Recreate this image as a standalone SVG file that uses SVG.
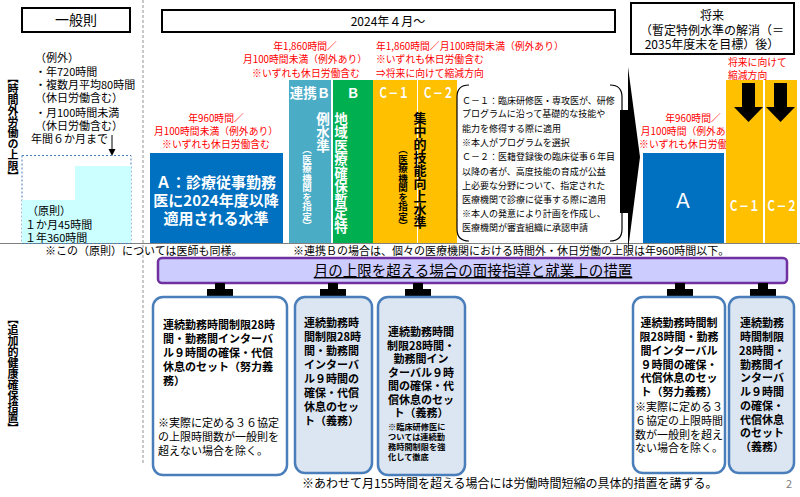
<svg xmlns="http://www.w3.org/2000/svg" width="800" height="497" viewBox="0 0 800 497">
<style>
text{font-family:"Noto Sans CJK JP","Noto Sans CJK SC",sans-serif;fill:#000}
.hdr{fill:#fff;stroke:#000;stroke-width:2}
.red{fill:#ff0000;font-size:9.8px}
.w{fill:#fff;font-weight:bold}
.v{writing-mode:vertical-rl}
.b{font-weight:bold}
.c{text-anchor:middle}
.cl{fill:#fff;font-weight:bold;font-size:10.3px;text-anchor:middle}
.box{stroke:#4a7ebb;stroke-width:2.5}
.bx1{fill:#fff}
.bx2{fill:#dce6f2}
.bt{font-size:11px;font-weight:bold}
</style>

<!-- frame lines -->
<g id="frame">
<line x1="143" y1="0" x2="143" y2="463" stroke="#a6a6a6" stroke-width="1.2" stroke-dasharray="3,2"/>
<line x1="0" y1="243.5" x2="800" y2="243.5" stroke="#808080" stroke-width="1"/>
</g>

<!-- headers -->
<g id="hdr-general">
<rect class="hdr" x="22" y="8" width="108" height="24"/>
<text x="76" y="25" class="c" font-size="14">一般則</text>
</g>
<g id="hdr-2024">
<rect class="hdr" x="162" y="10" width="453" height="22"/>
<text x="388" y="26" class="c" font-size="12">2024年４月～</text>
</g>
<g id="hdr-future">
<rect class="hdr" x="631" y="3" width="163" height="51"/>
<text x="712" y="20" class="c" font-size="12">将来</text>
<text x="712" y="35" class="c" font-size="12">（暫定特例水準の解消（＝</text>
<text x="712" y="49" class="c" font-size="12">2035年度末を目標）後）</text>
</g>

<!-- side labels -->
<text x="13" y="72" class="v b" font-size="11">【時間外労働の上限】</text>
<text x="13" y="313" class="v b" font-size="11">【追加的健康確保措置】</text>

<!-- general rule -->
<g id="general-rule">
<g font-size="11">
<text x="35" y="62">（例外）</text>
<text x="35" y="76">・年720時間</text>
<text x="35" y="89">・複数月平均80時間</text>
<text x="35" y="102">（休日労働含む）</text>
<text x="35" y="117">・月100時間未満</text>
<text x="35" y="130">（休日労働含む）</text>
<text x="31" y="143">年間６か月まで</text>
</g>
<line x1="112" y1="135" x2="112" y2="150" stroke="#000" stroke-width="1"/>
<polygon points="108.5,149 115.5,149 112,156" fill="#000"/>
<rect x="22" y="155.5" width="109" height="88" fill="none" stroke="#4a7ebb" stroke-width="1" stroke-dasharray="2,2"/>
<path d="M75,166 H131 V243 H22 V200 H75 Z" fill="#ccffff"/>
<g font-size="11">
<text x="27" y="215">（原則）</text>
<text x="25" y="229">１か月45時間</text>
<text x="25" y="242">１年360時間</text>
</g>
</g>

<!-- A level -->
<g id="level-A">
<text x="216" y="122" class="red c">年960時間／</text>
<text x="216" y="135" class="red c">月100時間未満（例外あり）</text>
<text x="216" y="148" class="red c">※いずれも休日労働含む</text>
<rect x="150" y="153" width="133" height="90" fill="#0070c0"/>
<text x="216" y="188" class="w c" font-size="15">Ａ：診療従事勤務</text>
<text x="216" y="206" class="w c" font-size="15">医に2024年度以降</text>
<text x="216" y="224" class="w c" font-size="15">適用される水準</text>
</g>

<!-- B levels -->
<g id="level-B">
<text x="305" y="50" class="red c">年1,860時間／</text>
<text x="305" y="63" class="red c">月100時間未満（例外あり）</text>
<text x="306" y="77" class="red c">※いずれも休日労働含む</text>
<rect x="289" y="80" width="42" height="163" fill="#4bacc6"/>
<rect x="333" y="80" width="40" height="163" fill="#00b050"/>
<text x="310" y="98" class="w c" font-size="13.5">連携Ｂ</text>
<text x="353" y="98" class="w c" font-size="13.5">Ｂ</text>
<text x="341" y="112" class="w v" font-size="13.5">地域医療確保暫定特</text>
<text x="323" y="112" class="w v" font-size="13.5">例水準</text>
<text x="307" y="145" class="w v" font-size="9.5">（医療機関を指定）</text>
</g>

<!-- C levels -->
<g id="level-C">
<text x="376" y="50" class="red">年1,860時間／月100時間未満（例外あり）</text>
<text x="376" y="63" class="red">※いずれも休日労働含む</text>
<text x="376" y="77" class="red">⇒将来に向けて縮減方向</text>
<rect x="373" y="80" width="44" height="163" fill="#ffc000"/>
<rect x="418" y="80" width="39" height="163" fill="#ffc000"/>
<g transform="translate(393.5,98) scale(1,1.35)"><text class="cl" x="0" y="0">Ｃ－１</text></g>
<g transform="translate(438,98) scale(1,1.35)"><text class="cl" x="0" y="0">Ｃ－２</text></g>
<text x="420" y="112" class="v b" font-size="13">集中的技能向上水準</text>
<text x="403" y="145" class="v b" font-size="9.5">（医療機関を指定）</text>
</g>

<!-- explanation bracket -->
<g id="c-note">
<path d="M469,85 Q457,85 457,97 V229 Q457,241 469,241" fill="none" stroke="#000" stroke-width="1.2"/>
<path d="M610,85 Q622,85 622,97 V229 Q622,241 610,241" fill="none" stroke="#000" stroke-width="1.2"/>
<g font-size="9">
<text x="462" y="104">Ｃ－１：臨床研修医・専攻医が、研修</text>
<text x="462" y="117">プログラムに沿って基礎的な技能や</text>
<text x="462" y="132">能力を修得する際に適用</text>
<text x="462" y="146">※本人がプログラムを選択</text>
<text x="462" y="160">Ｃ－２：医籍登録後の臨床従事６年目</text>
<text x="462" y="175">以降の者が、高度技能の育成が公益</text>
<text x="462" y="189">上必要な分野について、指定された</text>
<text x="462" y="203">医療機関で診療に従事する際に適用</text>
<text x="462" y="217">※本人の発意により計画を作成し、</text>
<text x="462" y="231">医療機関が審査組織に承認申請</text>
</g>
</g>

<!-- big arrow -->
<g id="big-arrow">
<polygon points="620,110 628,110 628,67 640,157 628,250 628,213 620,213" fill="#000"/>
</g>

<!-- future -->
<g id="future-A">
<text x="693" y="122" class="red c">年960時間／</text>
<text x="693" y="135" class="red c">月100時間（例外あり）</text>
<text x="693" y="148" class="red c">※いずれも休日労働含む</text>
<rect x="643" y="153" width="81" height="90" fill="#0070c0"/>
<text x="683" y="208" class="c" font-size="20" style="fill:#fff">Ａ</text>
</g>
<g id="future-C">
<text x="728" y="66" class="red">将来に向けて</text>
<text x="728" y="79" class="red">縮減方向</text>
<rect x="726" y="80" width="37" height="163" fill="#ffc000"/>
<rect x="765" y="80" width="32" height="163" fill="#ffc000"/>
<polygon points="742,83 755,83 755,107 763,107 748.5,122 734,107 742,107" fill="#000"/>
<polygon points="774,83 787,83 787,107 795,107 780.5,122 766,107 774,107" fill="#000"/>
<g transform="translate(744,211) scale(1,1.35)"><text class="cl" x="0" y="0">Ｃ－１</text></g>
<g transform="translate(781.5,211) scale(1,1.35)"><text class="cl" x="0" y="0">Ｃ－２</text></g>
</g>

<!-- notes -->
<text x="45" y="255" font-size="11">※この（原則）については医師も同様。</text>
<text x="293" y="255" font-size="11">※連携Ｂの場合は、個々の医療機関における時間外・休日労働の上限は年960時間以下。</text>

<!-- purple band -->
<g id="band">
<rect x="158" y="258" width="629" height="25" rx="4" fill="#ccccff" stroke="#7030a0" stroke-width="2.5"/>
<text x="473" y="276" class="c" font-size="14.5" text-decoration="underline">月の上限を超える場合の面接指導と就業上の措置</text>
</g>

<!-- connectors: plus signs -->
<g id="connectors" fill="#000">
<path d="M215,283 h10 v6 h8 v9 h-8 v7 h-10 v-7 h-8 v-9 h8 z"/>
<path d="M328,283 h10 v6 h8 v9 h-8 v7 h-10 v-7 h-8 v-9 h8 z"/>
<path d="M413,283 h10 v6 h8 v9 h-8 v7 h-10 v-7 h-8 v-9 h8 z"/>
<path d="M675,283 h10 v6 h8 v9 h-8 v7 h-10 v-7 h-8 v-9 h8 z"/>
<path d="M758,283 h10 v6 h8 v9 h-8 v7 h-10 v-7 h-8 v-9 h8 z"/>
</g>

<!-- measure boxes -->
<g id="measure-A">
<rect class="box bx1" x="153" y="297" width="134" height="178" rx="10"/>
<g class="bt">
<text x="163" y="329">連続勤務時間制限28時</text>
<text x="163" y="343">間・勤務間インターバ</text>
<text x="163" y="357">ル９時間の確保・代償</text>
<text x="163" y="371">休息のセット（努力義</text>
<text x="163" y="385">務）</text>
</g>
<g font-size="11">
<text x="158" y="427">※実際に定める３６協定</text>
<text x="158" y="441">の上限時間数が一般則を</text>
<text x="158" y="455">超えない場合を除く。</text>
</g>
</g>

<g id="measure-B">
<rect class="box bx2" x="295" y="297" width="77" height="176" rx="10"/>
<g class="bt">
<text x="304" y="327">連続勤務時</text>
<text x="304" y="341">間制限28時</text>
<text x="304" y="355">間・勤務間</text>
<text x="304" y="369">インターバ</text>
<text x="304" y="383">ル９時間の</text>
<text x="304" y="397">確保・代償</text>
<text x="304" y="411">休息のセッ</text>
<text x="304" y="425">ト（義務）</text>
</g>
</g>

<g id="measure-C">
<rect class="box bx2" x="378" y="297" width="87" height="178" rx="10"/>
<g class="bt c">
<text x="421" y="336">連続勤務時間</text>
<text x="421" y="349.5">制限28時間・</text>
<text x="421" y="363">勤務間イン</text>
<text x="421" y="376.5">ターバル９時</text>
<text x="421" y="390">間の確保・代</text>
<text x="421" y="403.5">償休息のセッ</text>
<text x="421" y="417">ト（義務）</text>
</g>
<g font-size="8.2" font-weight="bold">
<text x="388" y="430">※臨床研修医に</text>
<text x="388" y="440">ついては連続勤</text>
<text x="388" y="450">務時間制限を強</text>
<text x="388" y="460">化して徹底</text>
</g>
</g>

<g id="measure-futureA">
<rect class="box bx1" x="633" y="297" width="92" height="176" rx="10"/>
<g class="bt c">
<text x="679" y="327">連続勤務時間制</text>
<text x="679" y="341">限28時間・勤務</text>
<text x="679" y="355">間インターバル</text>
<text x="679" y="369">９時間の確保・</text>
<text x="679" y="382">代償休息のセッ</text>
<text x="679" y="396">ト（努力義務）</text>
</g>
<g font-size="11" class="c">
<text x="679" y="411">※実際に定める３</text>
<text x="679" y="425">６協定の上限時間</text>
<text x="679" y="439">数が一般則を超え</text>
<text x="679" y="452">ない場合を除く。</text>
</g>
</g>

<g id="measure-futureC">
<rect class="box bx2" x="729" y="297" width="65" height="176" rx="10"/>
<g class="bt c">
<text x="762" y="327">連続勤務</text>
<text x="762" y="341">時間制限</text>
<text x="762" y="355">28時間・</text>
<text x="762" y="369">勤務間イ</text>
<text x="762" y="382">ンターバ</text>
<text x="762" y="396">ル９時間</text>
<text x="762" y="410">の確保・</text>
<text x="762" y="424">代償休息</text>
<text x="762" y="437">のセット</text>
<text x="762" y="451">（義務）</text>
</g>
</g>

<text x="302" y="488" font-size="12">※あわせて月155時間を超える場合には労働時間短縮の具体的措置を講ずる。</text>
<text x="786" y="488" font-size="11" style="fill:#808080">2</text>
</svg>
